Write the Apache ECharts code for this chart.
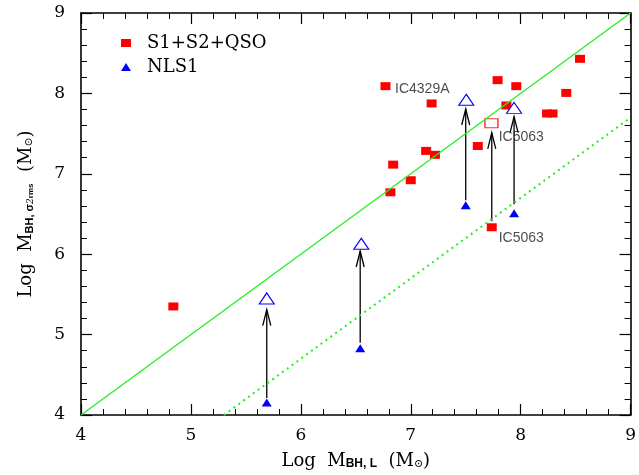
<!DOCTYPE html>
<html><head><meta charset="utf-8">
<script src="https://cdn.jsdelivr.net/npm/echarts@6/dist/echarts.min.js"></script>
<style>html,body{margin:0;padding:0;background:#fff}#c{width:639px;height:475px}</style>
</head><body><div id="c"></div>
<script>
// ---- data ----
const s1Points = [[6.77,8.09],[7.19,7.875],[7.79,8.165],[7.96,8.09],[7.87,7.85],[8.54,8.43],[8.415,8.006],[8.24,7.75],[8.29,7.75],[7.61,7.346],[7.14,7.285],[7.22,7.236],[6.84,7.114],[7.0,6.92],[6.815,6.77],[7.737,6.335],[4.84,5.35]];
const s1Corrected = [[7.734,7.63]];
const nls1Points = [[5.69,4.155],[6.54,4.83],[7.50,6.61],[7.94,6.51]];
const nls1Corrected = [[5.69,5.45],[6.55,6.13],[7.505,7.92],[7.94,7.82]];
const arrows = [[5.69,4.21,5.31],[6.54,4.9,6.04],[7.5,6.67,7.806],[7.737,6.41,7.51],[7.94,6.62,7.71]];
const oneToOne = [[4,4],[9,9]];
const offsetLine = [[5.3,4],[9,7.7]];
const annotations = [[6.857,8.05,'IC4329A'],[7.80,7.456,'IC5063'],[7.80,6.204,'IC5063']];
const xRange = [4,9], yRange = [4,9];

const serif = '"DejaVu Serif", "Liberation Serif", serif';
const sans = '"Liberation Sans", Arial, sans-serif';

function axisCommon(showLabel){
  return {
    type:'value', min:xRange[0], max:xRange[1], interval:1,
    axisLine:{show:true, lineStyle:{color:'#000', width:1.6}},
    axisTick:{show:true, inside:true, length:11, lineStyle:{color:'#000', width:1.2}},
    minorTick:{show:true, splitNumber:5, length:6, lineStyle:{color:'#000', width:1}},
    splitLine:{show:false}, minorSplitLine:{show:false},
    axisLabel:{show:showLabel, color:'#000', fontFamily:serif, fontSize:17},
  };
}

const chart = echarts.init(document.getElementById('c'), null, {renderer:'canvas'});
const xb = axisCommon(true);
Object.assign(xb, {position:'bottom', axisLabel:Object.assign(xb.axisLabel,{margin:12}),
  name:'{a|Log  M}{s|BH, L}{a|  (M}{o|⊙}{a|)}', nameLocation:'middle', nameGap:33,
  nameTextStyle:{rich:{
    a:{fontFamily:serif, fontSize:18, color:'#000', verticalAlign:'bottom', lineHeight:22},
    s:{fontFamily:sans, fontSize:12, fontWeight:'bold', color:'#000', verticalAlign:'bottom', lineHeight:17},
    o:{fontFamily:serif, fontSize:11, color:'#000', verticalAlign:'bottom', lineHeight:17}
  }}});
const xt = axisCommon(false); xt.position='top';
const yl = axisCommon(true);
Object.assign(yl, {min:yRange[0], max:yRange[1], position:'left', axisLabel:Object.assign(yl.axisLabel,{margin:16}),
  name:'{a|Log  M}{s|BH, σ}{p|2}{r|rms}{a|  (M}{o|⊙}{a|)}', nameLocation:'middle', nameGap:46, nameRotate:90,
  nameTextStyle:{rich:{
    a:{fontFamily:serif, fontSize:18, color:'#000', verticalAlign:'bottom', lineHeight:22},
    s:{fontFamily:sans, fontSize:11, fontWeight:'bold', color:'#000', verticalAlign:'bottom', lineHeight:17},
    p:{fontFamily:serif, fontSize:9, fontStyle:'italic', color:'#000', verticalAlign:'bottom', lineHeight:24},
    r:{fontFamily:sans, fontSize:8, fontWeight:'bold', color:'#000', verticalAlign:'bottom', lineHeight:14},
    o:{fontFamily:serif, fontSize:11, color:'#000', verticalAlign:'bottom', lineHeight:17}
  }}});
const yr = axisCommon(false); Object.assign(yr,{min:yRange[0], max:yRange[1], position:'right'});

chart.setOption({
  animation:false,
  backgroundColor:'#fff',
  grid:{left:81, right:5, top:13, bottom:53, containLabel:false},
  xAxis:[xb, xt],
  yAxis:[yl, yr],
  legend:{
    data:[{name:'S1+S2+QSO', icon:'rect'},{name:'NLS1', icon:'triangle'}],
    orient:'vertical', left:116, top:29, itemWidth:10, itemHeight:8, itemGap:6,
    textStyle:{fontFamily:serif, fontSize:18, color:'#000', padding:[0,0,0,11]}
  },
  series:[
    {type:'line', data:oneToOne, symbol:'none', lineStyle:{color:'#22ee22', width:1.3}, silent:true},
    {type:'line', data:offsetLine, symbol:'none', lineStyle:{color:'#22ee22', width:2, type:[2,4]}, silent:true},
    {type:'custom', data:arrows, encode:{x:0, y:[1,2]}, silent:true,
      renderItem:function(params, api){
        const p0 = api.coord([api.value(0), api.value(1)]);
        const p1 = api.coord([api.value(0), api.value(2)]);
        const st = {stroke:'#000', lineWidth:1.3, fill:null};
        return {type:'group', children:[
          {type:'line', shape:{x1:p0[0], y1:p0[1], x2:p1[0], y2:p1[1]}, style:st},
          {type:'polyline', shape:{points:[[p1[0]-4, p1[1]+16],[p1[0], p1[1]],[p1[0]+4, p1[1]+16]]}, style:st}
        ]};
      }},
    {name:'S1+S2+QSO', type:'scatter', data:s1Points, symbol:'rect', symbolSize:[10,8], itemStyle:{color:'#ff0000', opacity:1}},
    {name:'S1 corrected', type:'scatter', data:s1Corrected, symbol:'rect', symbolSize:[13,9], itemStyle:{color:'#fff', borderColor:'#ff3030', borderWidth:1.2, opacity:1}},
    {name:'NLS1', type:'scatter', data:nls1Points, symbol:'triangle', symbolSize:[10,8], itemStyle:{color:'#0000ff', opacity:1}},
    {name:'NLS1 corrected', type:'scatter', data:nls1Corrected, symbol:'triangle', symbolSize:[15,11], itemStyle:{color:'#fff', borderColor:'#0000ff', borderWidth:1.1, opacity:1}},
    {type:'scatter', symbolSize:0, silent:true,
      data:annotations.map(a=>({value:[a[0],a[1]], name:a[2]})),
      label:{show:true, position:'right', distance:0, formatter:'{b}', fontFamily:sans, fontSize:14, color:'#222'}}
  ]
});
</script></body></html>
